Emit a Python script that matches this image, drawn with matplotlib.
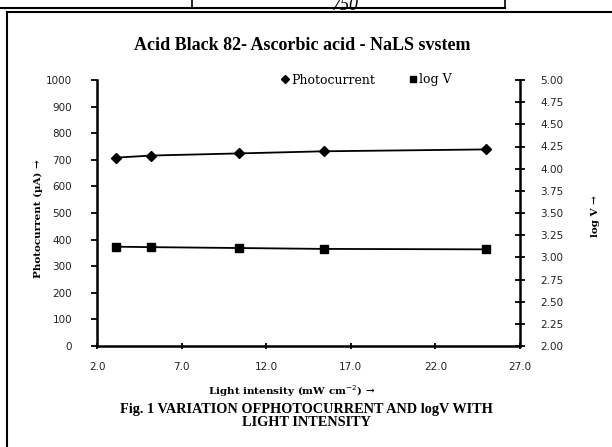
import matplotlib
matplotlib.use("Agg")
import matplotlib.pyplot as plt
from matplotlib.lines import Line2D

# data
intensity = [3.1, 5.2, 10.4, 15.4, 25.0]
photocurrent = [708, 716, 724, 732, 739]
log_v = [3.12, 3.115, 3.105, 3.095, 3.09]

x_ticks = [2.0, 7.0, 12.0, 17.0, 22.0, 27.0]
left_ticks = list(range(0, 1001, 100))
right_ticks = [2.00, 2.25, 2.50, 2.75, 3.00, 3.25, 3.50, 3.75, 4.00, 4.25, 4.50, 4.75, 5.00]

serif = "Liberation Serif"
wserif = "DejaVu Serif"
tickfont = dict(family="DejaVu Sans", size=7.5, color="#222222")

fig = plt.figure(figsize=(6.12, 4.47), dpi=100)

# page frame bits from the scanned page
fig.add_artist(Line2D([0, 505 / 612], [1 - 8 / 447] * 2, color="black", lw=1.5))
fig.add_artist(Line2D([192 / 612] * 2, [1, 1 - 8 / 447], color="black", lw=1.2))
fig.add_artist(Line2D([505 / 612] * 2, [1, 1 - 8 / 447], color="black", lw=1.2))
fig.add_artist(Line2D([7 / 612, 1], [1 - 12 / 447] * 2, color="black", lw=1.5))
fig.add_artist(Line2D([7 / 612] * 2, [1 - 12 / 447, 0], color="black", lw=1.5))
fig.text(345 / 612, 1 + 3 / 447, "750", ha="center", va="top", fontsize=13,
         family=serif, style="italic")

ax = fig.add_axes([97 / 612, 1 - 346 / 447, 423 / 612, 266 / 447])
ax2 = ax.twinx()

ax.plot(intensity, photocurrent, color="black", lw=1.3, marker="D", ms=5,
        label="Photocurrent")
ax2.plot(intensity, log_v, color="black", lw=1.3, marker="s", ms=6,
         label="log V")

ax.set_xlim(2, 27)
ax.set_ylim(0, 1000)
ax2.set_ylim(2, 5)
ax.set_xticks(x_ticks)
ax.set_xticklabels([f"{v:.1f}" for v in x_ticks], fontdict=tickfont)
ax.set_yticks(left_ticks)
ax.set_yticklabels([str(v) for v in left_ticks], fontdict=tickfont)
ax2.set_yticks(right_ticks)
ax2.set_yticklabels([f"{v:.2f}" for v in right_ticks], fontdict=tickfont)

for a in (ax, ax2):
    a.spines["top"].set_visible(False)
    for s in ("left", "right", "bottom"):
        a.spines[s].set_linewidth(1.8)
ax.spines["right"].set_visible(False)
ax2.spines["left"].set_visible(False)
ax2.spines["bottom"].set_visible(False)

ax.tick_params(axis="y", direction="out", length=4, width=1.3, pad=14)
ax.tick_params(axis="x", direction="inout", length=5, width=1.3, pad=9)
ax2.tick_params(axis="y", direction="inout", length=7, width=1.3, pad=11)

ax.set_xlabel("Light intensity (mW cm$^{-2}$) →", family=wserif, weight="bold",
              fontsize=7.5)
ax.xaxis.set_label_coords(0.461, -0.139)
ax.set_ylabel("Photocurrent (µA) →", family=wserif, weight="bold", fontsize=7.5)
ax.yaxis.set_label_coords(-0.128, 0.48)
ax2.set_ylabel("log V →", family=wserif, weight="bold", fontsize=7.5)
ax2.yaxis.set_label_coords(1.168, 0.49)

fig.text(302 / 612, 1 - 45 / 447, "Acid Black 82- Ascorbic acid - NaLS svstem",
         ha="center", va="center", family=serif, weight="bold", fontsize=13)

handles = [Line2D([], [], color="black", marker="D", ms=4, ls="none"),
           Line2D([], [], color="black", marker="s", ms=5, ls="none")]
fig.legend(handles, ["Photocurrent", "log V"], loc="center",
           bbox_to_anchor=(366 / 612, 1 - 80 / 447), ncol=2, frameon=False,
           prop=dict(family=wserif, size=9), handletextpad=0.1,
           columnspacing=2.6, handlelength=0.8)

fig.text(306 / 612, 1 - 410 / 447, "Fig. 1 VARIATION OFPHOTOCURRENT AND logV WITH",
         ha="center", va="center", family=serif, weight="bold", fontsize=10.3)
fig.text(306 / 612, 1 - 422 / 447, "LIGHT INTENSITY",
         ha="center", va="center", family=serif, weight="bold", fontsize=10.3)

fig.savefig("out.png", dpi=100)
